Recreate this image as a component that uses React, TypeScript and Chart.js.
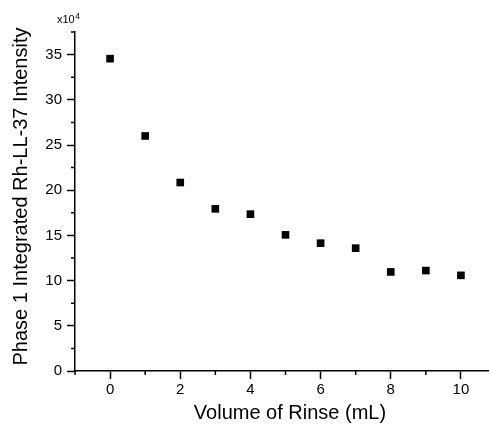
import React, { useEffect, useRef } from "react";
import { Chart, registerables } from "chart.js";

Chart.register(...registerables);

const rinseVolumes = [0, 1, 2, 3, 4, 5, 6, 7, 8, 9, 10];
const intensities = [34.55, 26.0, 20.85, 17.94, 17.35, 15.06, 14.14, 13.59, 10.96, 11.11, 10.58];
const xMajorTicks = [0, 2, 4, 6, 8, 10];
const xMinorTicks = [-1, 1, 3, 5, 7, 9];
const yMajorTicks = [0, 5, 10, 15, 20, 25, 30, 35];
const yMinorTicks = [2.5, 7.5, 12.5, 17.5, 22.5, 27.5, 32.5, 37.5];
const xTitle = "Volume of Rinse (mL)";
const yTitle = "Phase 1 Integrated Rh-LL-37 Intensity";
const FONT = "'Liberation Sans', Arial, Helvetica, sans-serif";

const decorPlugin = {
  id: "decor",
  afterDraw(chart: any) {
    const ctx = chart.ctx;
    const xs = chart.scales.x;
    const ys = chart.scales.y;
    const area = chart.chartArea;
    ctx.save();
    ctx.strokeStyle = "#000";
    ctx.lineWidth = 1.5;
    ctx.beginPath();
    for (const v of xMinorTicks) {
      const px = xs.getPixelForValue(v);
      ctx.moveTo(px, area.bottom);
      ctx.lineTo(px, area.bottom + 4);
    }
    for (const v of yMinorTicks) {
      const py = ys.getPixelForValue(v);
      ctx.moveTo(area.left - 4, py);
      ctx.lineTo(area.left, py);
    }
    ctx.stroke();

    ctx.fillStyle = "#000";
    ctx.font = `20px ${FONT}`;
    ctx.textAlign = "center";
    ctx.textBaseline = "alphabetic";
    ctx.fillText(xTitle, 290, 419);
    ctx.save();
    ctx.translate(27, 196.5);
    ctx.rotate(-Math.PI / 2);
    ctx.fillText(yTitle, 0, 0);
    ctx.restore();
    ctx.textAlign = "left";
    ctx.font = `11px ${FONT}`;
    ctx.fillText("x10", 57, 23);
    const w = ctx.measureText("x10").width;
    ctx.font = `8.5px ${FONT}`;
    ctx.fillText("4", 57 + w + 0.5, 19);
    ctx.restore();
  },
};

export default function App() {
  const ref = useRef<HTMLCanvasElement | null>(null);
  useEffect(() => {
    if (!ref.current) return;
    const chart = new Chart(ref.current, {
      type: "scatter",
      data: {
        datasets: [
          {
            data: rinseVolumes.map((x, i) => ({ x, y: intensities[i] })),
            pointStyle: "rect",
            pointRadius: 5.4,
            pointBackgroundColor: "#000",
            pointBorderColor: "#000",
            pointBorderWidth: 0,
            showLine: false,
          },
        ],
      },
      options: {
        animation: false,
        responsive: false,
        maintainAspectRatio: false,
        layout: { autoPadding: false, padding: { top: 32, left: 0, right: 0, bottom: 0 } },
        plugins: { legend: { display: false }, tooltip: { enabled: false } },
        scales: {
          x: {
            type: "linear",
            min: -1,
            max: 10.8,
            afterBuildTicks: (s: any) => {
              s.ticks = xMajorTicks.map((v) => ({ value: v }));
            },
            afterFit: (s: any) => {
              s.height = 54;
            },
            grid: {
              drawOnChartArea: false,
              drawTicks: true,
              tickLength: 8,
              tickColor: "#000",
              tickWidth: 1.5,
            },
            border: { display: true, color: "#000", width: 1.5 },
            ticks: {
              color: "#000",
              font: { family: FONT, size: 15 },
              padding: 2,
              maxRotation: 0,
              autoSkip: false,
            },
          },
          y: {
            type: "linear",
            min: 0,
            max: 37.5,
            afterBuildTicks: (s: any) => {
              s.ticks = yMajorTicks.map((v) => ({ value: v }));
            },
            afterFit: (s: any) => {
              s.width = 75;
            },
            grid: {
              drawOnChartArea: false,
              drawTicks: true,
              tickLength: 8,
              tickColor: "#000",
              tickWidth: 1.5,
            },
            border: { display: true, color: "#000", width: 1.5 },
            ticks: {
              color: "#000",
              font: { family: FONT, size: 15 },
              padding: 5,
              autoSkip: false,
            },
          },
        },
      },
      plugins: [decorPlugin],
    });
    return () => chart.destroy();
  }, []);
  return (
    <div style={{ position: "fixed", left: 0, top: 0, width: 489, height: 425, background: "#fff" }}>
      <canvas ref={ref} width={489} height={425} style={{ display: "block" }} />
    </div>
  );
}
